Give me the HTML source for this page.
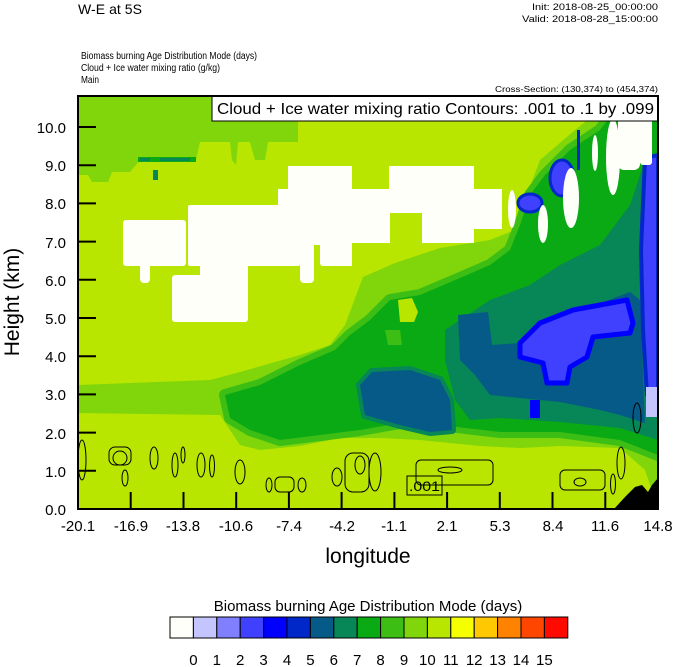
<!DOCTYPE html>
<html><head><meta charset="utf-8"><style>
html,body{margin:0;padding:0;background:#fff;}
svg{display:block;font-family:"Liberation Sans",sans-serif;}
</style></head><body>
<svg width="674" height="667" viewBox="0 0 674 667" xmlns="http://www.w3.org/2000/svg">
<rect width="674" height="667" fill="#fff"/>
<text x="78" y="14" font-size="14" textLength="64">W-E at 5S</text>
<text x="658" y="10" font-size="9.5" text-anchor="end" textLength="126" lengthAdjust="spacingAndGlyphs">Init: 2018-08-25_00:00:00</text>
<text x="658" y="22" font-size="9.5" text-anchor="end" textLength="136" lengthAdjust="spacingAndGlyphs">Valid: 2018-08-28_15:00:00</text>
<text x="81" y="59" font-size="10" textLength="176" lengthAdjust="spacingAndGlyphs">Biomass burning Age Distribution Mode    (days)</text>
<text x="81" y="71" font-size="10" textLength="139" lengthAdjust="spacingAndGlyphs">Cloud + Ice water mixing ratio    (g/kg)</text>
<text x="81" y="83" font-size="10" textLength="18" lengthAdjust="spacingAndGlyphs">Main</text>
<text x="658" y="92" font-size="8.5" text-anchor="end" textLength="163" lengthAdjust="spacingAndGlyphs">Cross-Section: (130,374) to (454,374)</text>

<clipPath id="pc"><rect x="78" y="96" width="580" height="413"/></clipPath>
<g clip-path="url(#pc)">
<rect x="78" y="96" width="580" height="413" fill="#b8e600"/>
<polygon fill="#80d60a" points="78,96 298,96 298,142 268,142 265,160 255,160 250,142 238,142 236,165 232,160 230,142 200,142 196,160 170,160 165,160 140,160 130,172 112,172 108,182 92,182 88,175 78,175"/>
<rect x="138" y="157" width="58" height="5" fill="#0aaa14"/>
<rect x="140" y="158" width="10" height="3" fill="#078657"/>
<rect x="160" y="158" width="30" height="3" fill="#078657"/>
<rect x="153" y="170" width="5" height="10" fill="#078657"/>
<polygon fill="#80d60a" points="78,385 210,380 240,372 300,355 330,345 345,325 363,277 395,263 440,248 490,240 515,230 525,200 540,160 575,130 600,110 610,96 658,96 658,509 645,470 620,448 560,446 520,448 480,446 420,440 380,438 340,438 300,446 260,450 240,445 220,415 78,413"/>
<polygon fill="#3cbe14" stroke="#3cbe14" stroke-width="12" stroke-linejoin="round" points="225,395 260,385 300,365 335,350 350,335 370,320 390,300 420,295 460,278 490,265 510,250 520,225 530,195 545,175 570,150 600,130 615,110 620,96 658,96 658,455 620,440 560,432 500,432 440,425 400,423 360,430 320,435 280,440 250,430 230,418"/>
<polygon fill="#0aaa14" points="225,395 260,385 300,365 335,350 350,335 370,320 390,300 420,295 460,278 490,265 510,250 520,225 530,195 545,175 570,150 600,130 615,110 620,96 658,96 658,455 620,440 560,432 500,432 440,425 400,423 360,430 320,435 280,440 250,430 230,418"/>
<polygon fill="#b8e600" points="398,300 412,298 418,312 414,322 400,322"/>
<polygon fill="#3cbe14" points="385,330 400,330 402,345 388,345"/>
<!-- c7 -->
<polygon fill="#078657" points="445,330 490,300 530,285 560,265 600,245 630,205 645,160 658,160 658,440 620,428 560,422 500,418 470,420 455,400 445,360"/>
<polygon fill="#078657" stroke="#078657" stroke-width="8" stroke-linejoin="round" points="360,385 372,372 410,370 440,380 450,400 452,430 430,432 400,425 365,415"/>
<polygon fill="#065a87" points="360,385 372,372 410,370 440,380 450,400 452,430 430,432 400,425 365,415"/>
<polygon fill="#065a87" points="458,315 488,312 492,345 520,343 560,318 630,292 640,300 645,423 620,415 600,410 560,402 520,398 490,395 475,375 460,360"/>
<polygon fill="#4040ff" stroke="#0000ff" stroke-width="5" stroke-linejoin="round" points="520,343 540,323 573,310 627,300 633,323 630,333 593,337 587,357 570,367 567,383 547,383 543,363 520,357"/>
<polygon fill="#4040ff" stroke="#0028c8" stroke-width="4" points="645,158 658,155 658,400 647,395 643,330 641,250"/>
<rect x="646" y="387" width="12" height="30" fill="#c4c4ff"/>
<rect x="530" y="400" width="10" height="18" fill="#0000ff"/>
<ellipse cx="530" cy="203" rx="12" ry="9" fill="#4040ff" stroke="#0028c8" stroke-width="3"/>
<ellipse cx="562" cy="178" rx="12" ry="18" fill="#4040ff" stroke="#0028c8" stroke-width="3"/>
<rect x="577" y="130" width="3" height="40" fill="#0028c8"/>
<g fill="#fffffa">
<rect x="123" y="220" width="63" height="46" rx="3"/>
<rect x="140" y="260" width="10" height="23" rx="4"/>
<rect x="188" y="205" width="112" height="61" rx="2"/>
<rect x="172" y="275" width="76" height="47" rx="3"/>
<rect x="200" y="250" width="48" height="30"/>
<rect x="278" y="189" width="65" height="56"/>
<rect x="288" y="166" width="64" height="30"/>
<rect x="300" y="240" width="14" height="43" rx="4"/>
<rect x="320" y="240" width="16" height="26" rx="3"/>
<rect x="330" y="166" width="22" height="100"/>
<rect x="352" y="189" width="38" height="54"/>
<rect x="389" y="166" width="85" height="47"/>
<rect x="422" y="205" width="52" height="38"/>
<rect x="468" y="189" width="34" height="40"/>
<ellipse cx="512" cy="209" rx="4" ry="19"/>
<ellipse cx="543" cy="224" rx="5" ry="19"/>
<ellipse cx="571" cy="198" rx="8" ry="30"/>
<ellipse cx="595" cy="153" rx="3" ry="18"/>
<ellipse cx="613" cy="157" rx="7" ry="38"/>
<rect x="618" y="115" width="22" height="55" rx="6"/>
<rect x="640" y="110" width="12" height="55" rx="3"/>
</g>
<rect x="625" y="98" width="6" height="12" fill="#c4c4ff"/>
<rect x="640" y="98" width="6" height="12" fill="#c4c4ff"/>
<polygon fill="#000" points="614,509 625,497 635,487 642,485 648,492 652,485 658,478 658,509"/>
<g fill="none" stroke="#000" stroke-width="1">
<ellipse cx="82" cy="460" rx="4" ry="20"/>
<rect x="109" y="447" width="22" height="18" rx="6"/>
<ellipse cx="120" cy="458" rx="7" ry="7"/>
<ellipse cx="125" cy="478" rx="3" ry="8"/>
<ellipse cx="154" cy="458" rx="4" ry="11"/>
<ellipse cx="175" cy="465" rx="3" ry="12"/>
<ellipse cx="183" cy="455" rx="2" ry="8"/>
<ellipse cx="201" cy="465" rx="4" ry="12"/>
<ellipse cx="212" cy="466" rx="2.5" ry="11"/>
<ellipse cx="240" cy="472" rx="5" ry="12"/>
<ellipse cx="269" cy="485" rx="3" ry="7"/>
<rect x="275" y="477" width="19" height="15" rx="5"/>
<ellipse cx="302" cy="485" rx="4" ry="7"/>
<ellipse cx="337" cy="477" rx="5" ry="9"/>
<rect x="345" y="453" width="24" height="39" rx="8"/>
<ellipse cx="360" cy="465" rx="5" ry="9"/>
<ellipse cx="375" cy="472" rx="6" ry="19"/>
<rect x="416" y="460" width="77" height="25" rx="5"/>
<ellipse cx="450" cy="470" rx="12" ry="3"/>
<rect x="560" y="470" width="45" height="20" rx="5"/>
<ellipse cx="580" cy="482" rx="6" ry="4"/>
<ellipse cx="613" cy="484" rx="2.5" ry="10"/>
<ellipse cx="621" cy="463" rx="4" ry="16"/>
<ellipse cx="637" cy="418" rx="4" ry="15"/>
</g>
<rect x="407" y="476" width="35" height="19" fill="none" stroke="#000" stroke-width="1"/>
<text x="409" y="491" font-size="14" textLength="31" lengthAdjust="spacingAndGlyphs">.001</text>
</g>
<rect x="212" y="96" width="446" height="25" fill="#fff" stroke="#000" stroke-width="1"/>
<text x="217" y="114" font-size="16" textLength="437" lengthAdjust="spacingAndGlyphs">Cloud + Ice water mixing ratio Contours: .001 to .1 by .099</text>
<rect x="78" y="96" width="580" height="413" fill="none" stroke="#000" stroke-width="2"/>
<g stroke="#000" stroke-width="2">
<line x1="78" y1="509" x2="96" y2="509"/><line x1="78" y1="470.8" x2="96" y2="470.8"/><line x1="78" y1="432.6" x2="96" y2="432.6"/><line x1="78" y1="394.4" x2="96" y2="394.4"/><line x1="78" y1="356.2" x2="96" y2="356.2"/><line x1="78" y1="318" x2="96" y2="318"/><line x1="78" y1="279.8" x2="96" y2="279.8"/><line x1="78" y1="241.6" x2="96" y2="241.6"/><line x1="78" y1="203.4" x2="96" y2="203.4"/><line x1="78" y1="165.2" x2="96" y2="165.2"/><line x1="78" y1="127" x2="96" y2="127"/>
<line x1="130.7" y1="509" x2="130.7" y2="492"/><line x1="183.5" y1="509" x2="183.5" y2="492"/><line x1="236.2" y1="509" x2="236.2" y2="492"/><line x1="288.9" y1="509" x2="288.9" y2="492"/><line x1="341.6" y1="509" x2="341.6" y2="492"/><line x1="394.4" y1="509" x2="394.4" y2="492"/><line x1="447.1" y1="509" x2="447.1" y2="492"/><line x1="499.8" y1="509" x2="499.8" y2="492"/><line x1="552.5" y1="509" x2="552.5" y2="492"/><line x1="605.3" y1="509" x2="605.3" y2="492"/>
</g>
<g font-size="15" text-anchor="end">
<text x="66" y="515">0.0</text><text x="66" y="477">1.0</text><text x="66" y="439">2.0</text><text x="66" y="400">3.0</text><text x="66" y="362">4.0</text><text x="66" y="324">5.0</text><text x="66" y="286">6.0</text><text x="66" y="248">7.0</text><text x="66" y="209">8.0</text><text x="66" y="171">9.0</text><text x="66" y="133">10.0</text>
</g>
<g font-size="15" text-anchor="middle">
<text x="78" y="531">-20.1</text><text x="131" y="531">-16.9</text><text x="183" y="531">-13.8</text><text x="236" y="531">-10.6</text><text x="289" y="531">-7.4</text><text x="342" y="531">-4.2</text><text x="394" y="531">-1.1</text><text x="447" y="531">2.1</text><text x="500" y="531">5.3</text><text x="553" y="531">8.4</text><text x="605" y="531">11.6</text><text x="658" y="531">14.8</text>
</g>
<text x="368" y="563" font-size="21" text-anchor="middle">longitude</text>
<text transform="translate(19,302) rotate(-90)" font-size="21" text-anchor="middle">Height (km)</text>
<text x="368" y="611" font-size="15" text-anchor="middle">Biomass burning Age Distribution Mode  (days)</text>
<g stroke="#000" stroke-width="1">
<rect x="170" y="617" width="23.4" height="21" fill="#fffffa"/>
<rect x="193.4" y="617" width="23.4" height="21" fill="#c4c4ff"/>
<rect x="216.8" y="617" width="23.4" height="21" fill="#8080ff"/>
<rect x="240.2" y="617" width="23.4" height="21" fill="#4040ff"/>
<rect x="263.6" y="617" width="23.4" height="21" fill="#0000ff"/>
<rect x="287" y="617" width="23.4" height="21" fill="#0028c8"/>
<rect x="310.4" y="617" width="23.4" height="21" fill="#065a87"/>
<rect x="333.8" y="617" width="23.4" height="21" fill="#078657"/>
<rect x="357.2" y="617" width="23.4" height="21" fill="#0aaa14"/>
<rect x="380.6" y="617" width="23.4" height="21" fill="#3cbe14"/>
<rect x="404" y="617" width="23.4" height="21" fill="#80d60a"/>
<rect x="427.4" y="617" width="23.4" height="21" fill="#b8e600"/>
<rect x="450.8" y="617" width="23.4" height="21" fill="#f5ff00"/>
<rect x="474.2" y="617" width="23.4" height="21" fill="#ffc800"/>
<rect x="497.6" y="617" width="23.4" height="21" fill="#ff8200"/>
<rect x="521" y="617" width="23.4" height="21" fill="#ff4600"/>
<rect x="544.4" y="617" width="23.4" height="21" fill="#ff0a00"/>
</g>
<g font-size="15" text-anchor="middle">
<text x="193.4" y="665">0</text><text x="216.8" y="665">1</text><text x="240.2" y="665">2</text><text x="263.6" y="665">3</text><text x="287" y="665">4</text><text x="310.4" y="665">5</text><text x="333.8" y="665">6</text><text x="357.2" y="665">7</text><text x="380.6" y="665">8</text><text x="404" y="665">9</text><text x="427.4" y="665">10</text><text x="450.8" y="665">11</text><text x="474.2" y="665">12</text><text x="497.6" y="665">13</text><text x="521" y="665">14</text><text x="544.4" y="665">15</text>
</g>
</svg>
</body></html>
